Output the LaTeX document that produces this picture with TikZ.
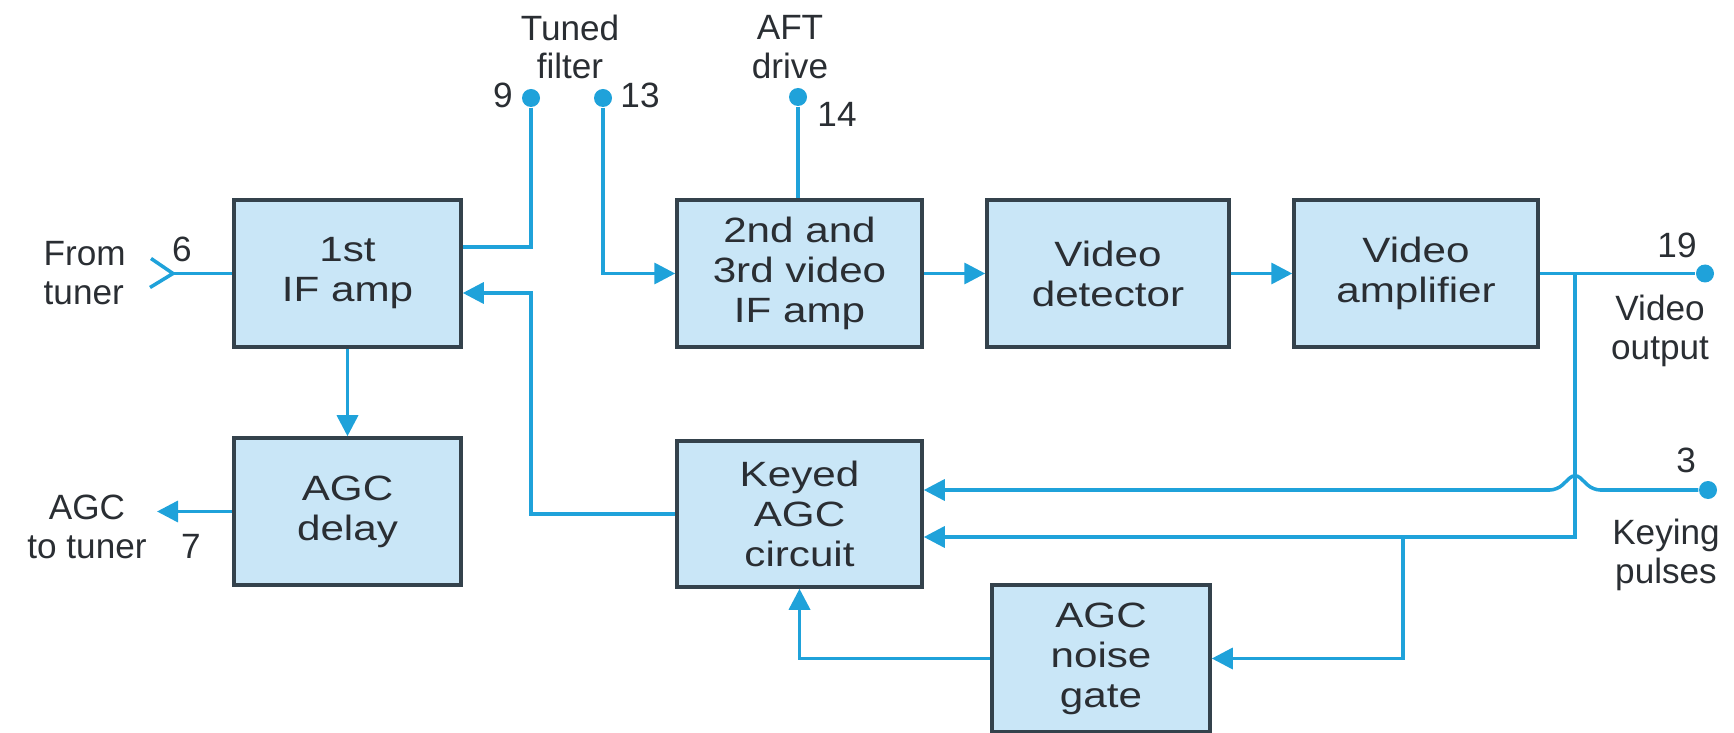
\documentclass[tikz,border=0pt]{standalone}
\usepackage{fontspec}
\setmainfont{Liberation Sans}
\newfontfamily\blockfont{Liberation Sans}[FakeStretch=1.2]
\usetikzlibrary{arrows.meta}
\definecolor{BlockFill}{HTML}{C9E6F7}
\definecolor{BlockEdge}{HTML}{34424C}
\definecolor{WireBlue}{HTML}{1FA2DA}
\definecolor{Ink}{HTML}{2A2E33}

\tikzset{
  block/.style={draw=BlockEdge, fill=BlockFill, line width=1pt, align=center, text=Ink,
    font=\blockfont\fontsize{10}{11.4}\selectfont, inner sep=0, minimum height=14.7mm},
  wire/.style={draw=WireBlue, line width=1pt},
  flow/.style={wire, -{Triangle[length=2.1mm, width=2.1mm]}},
  terminal/.style={circle, fill=WireBlue, minimum size=1.8mm, inner sep=0},
  lbl/.style={text=Ink, font=\fontsize{10}{11}\selectfont, inner sep=0, align=center},
}

\begin{document}
\begin{tikzpicture}[x=0.1mm, y=-0.1mm]
    \useasboundingbox (0,0) rectangle (1734,733);
    % blocks
    \node[block, minimum width=22.7mm] (if1) at (347.5,273.5) {1st\\IF amp};
    \node[block, minimum width=24.5mm] (if2) at (799.5,273.5) {2nd and\\3rd video\\IF amp};
    \node[block, minimum width=24.2mm] (det) at (1108,273.5) {Video\\detector};
    \node[block, minimum width=24.4mm] (vamp) at (1416,273.5) {Video\\amplifier};
    \node[block, minimum width=22.7mm] (delay) at (347.5,511.5) {AGC\\delay};
    \node[block, minimum width=24.5mm, minimum height=14.6mm] (keyed) at (799.5,514) {Keyed\\AGC\\circuit};
    \node[block, minimum width=21.8mm] (gate) at (1101,658.5) {AGC\\noise\\gate};

    % pins
    \node[terminal] (p9) at (531,98) {};
    \node[terminal] (p13) at (603,98) {};
    \node[terminal] (p14) at (798,97) {};
    \node[terminal] (p19) at (1705,273.5) {};
    \node[terminal] (p3) at (1708,490) {};

    % labels
    \node[lbl, align=left, anchor=west] (fromtuner) at (43,273) {From\\tuner};
    \node[lbl, anchor=base] (n6) at (182,262) {6};
    \node[lbl] (agctuner) at (87,527) {AGC\\to tuner};
    \node[lbl, anchor=base] (n7) at (191,558) {7};
    \node[lbl] (tuned) at (570,47) {Tuned\\filter};
    \node[lbl, anchor=base] (n9) at (503,108) {9};
    \node[lbl, anchor=base] (n13) at (640,108) {13};
    \node[lbl] (aft) at (790,47) {AFT\\drive};
    \node[lbl, anchor=base] (n14) at (837,127) {14};
    \node[lbl, anchor=base] (n19) at (1677,258) {19};
    \node[lbl] (vout) at (1660,331) {Video\\output};
    \node[lbl, anchor=base] (n3) at (1686,472) {3};
    \node[lbl] (keying) at (1666,555) {Keying\\pulses};

    % bend points
    \coordinate (ant) at (173,273.5);
    \coordinate (c9) at (531,247);
    \coordinate (cfb) at (531,293);
    \coordinate (jout) at (1575,273.5);
    \coordinate (jkey) at (1575,537);
    \coordinate (jgate) at (1403,537);
    \coordinate (hopR) at (1593,490);
    \coordinate (hopL) at (1557,490);
    \coordinate (agcout) at (157,511.5);

    % signal path
    \draw[wire] (ant) -- (if1.west);
    \draw[wire] (ant) -- ++(-22,-15) (ant) -- ++(-23,14);
    \draw[wire] (p9) -- (c9) -- (c9 -| if1.east);
    \draw[flow] (p13) |- (if2.west);
    \draw[wire] (p14) -- (p14 |- if2.north);
    \draw[flow] (if2) -- (det);
    \draw[flow] (det) -- (vamp);
    \draw[wire] (vamp.east) -- (p19);

    % agc loop
    \draw[flow] (jout) -- (jkey) -- (jkey -| keyed.east);
    \draw[flow] (jgate) |- (gate.east);
    \draw[flow, rounded corners=2pt] (p3) -- (hopR) -- ++(-18,-17) -- (hopL) -- (hopL -| keyed.east);
    \draw[flow] (keyed.west) -| (cfb) -- (cfb -| if1.east);
    \draw[flow] (gate.west) -| (keyed.south);
    \draw[flow] (if1) -- (delay);
    \draw[flow] (delay.west) -- (agcout);
\end{tikzpicture}
\end{document}
